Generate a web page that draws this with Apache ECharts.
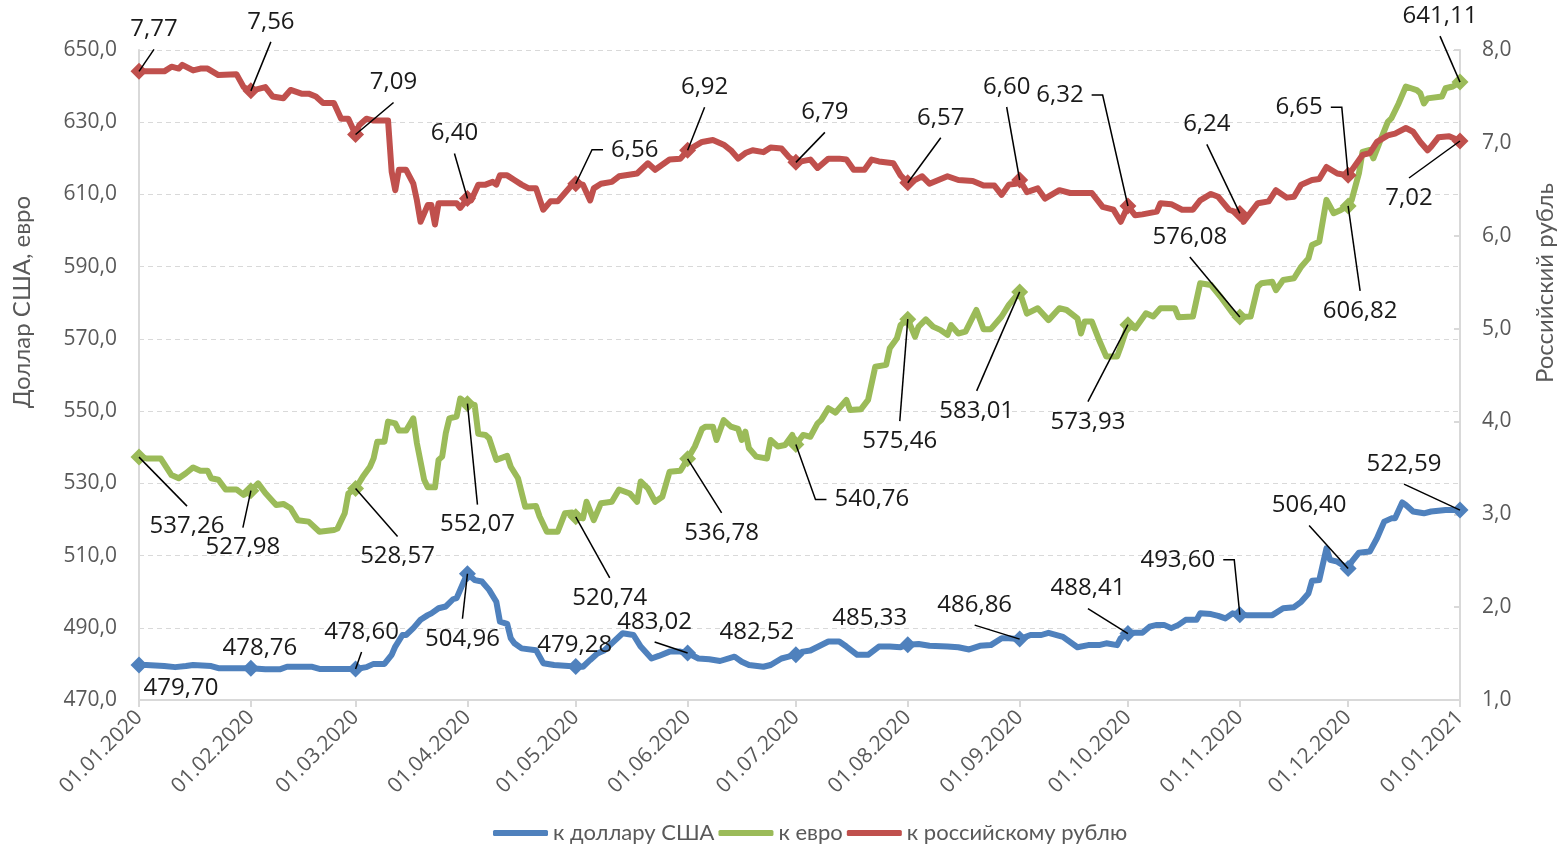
<!DOCTYPE html>
<html>
<head>
<meta charset="utf-8">
<title>Курс тенге, 2020</title>
<script src="https://cdn.jsdelivr.net/npm/echarts@6.0.0/dist/echarts.min.js"></script>
<style>
  html, body { margin: 0; padding: 0; background: #fff; }
  #main { width: 1565px; height: 849px; }
</style>
</head>
<body>
<div id="main"></div>
<script>
// x is the day counted from 01.01.2020
const monthDays = [0, 31, 60, 91, 121, 152, 182, 213, 244, 274, 305, 335, 366];
const monthLabels = ['01.01.2020', '01.02.2020', '01.03.2020', '01.04.2020', '01.05.2020', '01.06.2020',
  '01.07.2020', '01.08.2020', '01.09.2020', '01.10.2020', '01.11.2020', '01.12.2020', '01.01.2021'];
const seriesNames = ['к доллару США', 'к евро', 'к российскому рублю'];

// values on the first day of each month (the labelled points)
const usdMonth = [479.70, 478.76, 478.60, 504.96, 479.28, 483.02, 482.52, 485.33, 486.86, 488.41, 493.60, 506.40, 522.59];
const eurMonth = [537.26, 527.98, 528.57, 552.07, 520.74, 536.78, 540.76, 575.46, 583.01, 573.93, 576.08, 606.82, 641.11];
const rubMonth = [7.77, 7.56, 7.09, 6.40, 6.56, 6.92, 6.79, 6.57, 6.60, 6.32, 6.24, 6.65, 7.02];

// daily course: [day, rate]
const usdDaily = [[0, 479.70], [2, 479.7], [7, 479.4], [10, 479.1], [13, 479.4], [15, 479.7], [20, 479.4], [22, 478.8],
  [27, 478.8], [31, 478.76], [35, 478.5], [39, 478.5], [41, 479.2], [48, 479.2], [50, 478.6], [58, 478.6], [60, 478.60],
  [63, 479.1], [65, 480.0], [68, 480.0], [70, 482.5], [71, 484.8], [73, 488.0], [74, 488.0], [76, 489.9], [78, 492.2],
  [80, 493.5], [81, 494.0], [83, 495.4], [85, 495.9], [87, 497.9], [88, 498.2], [90, 502.8], [91, 504.96], [93, 503.2],
  [95, 502.8], [97, 500.5], [99, 497.2], [100, 491.7], [102, 491.1], [103, 487.1], [104, 485.7], [106, 484.3], [110, 483.8],
  [112, 480.2], [115, 479.7], [119, 479.4], [121, 479.28], [123, 479.2], [125, 481.1], [127, 482.9], [129, 483.8],
  [131, 485.7], [134, 488.5], [137, 488.0], [139, 484.8], [142, 481.5], [144, 482.2], [147, 483.4], [150, 483.4],
  [152, 483.02], [155, 481.5], [158, 481.3], [161, 480.8], [165, 482.0], [167, 480.6], [169, 479.7], [173, 479.2],
  [175, 479.7], [178, 481.5], [180, 482.0], [182, 482.52], [184, 483.4], [186, 483.7], [191, 486.2], [194, 486.2],
  [196, 484.8], [199, 482.5], [202, 482.5], [205, 484.8], [208, 484.8], [211, 484.6], [213, 485.33], [216, 485.5],
  [219, 485.0], [224, 484.8], [227, 484.6], [230, 484.0], [233, 485.0], [236, 485.2], [239, 487.1], [241, 487.1],
  [244, 486.86], [247, 488.0], [250, 488.0], [252, 488.6], [256, 487.5], [260, 484.6], [263, 485.2], [266, 485.2],
  [268, 485.7], [271, 485.2], [272, 487.1], [274, 488.41], [275, 488.6], [278, 488.6], [280, 490.3], [282, 490.8],
  [284, 490.8], [286, 489.9], [288, 490.8], [290, 492.2], [293, 492.2], [294, 494.0], [297, 493.8], [299, 493.3],
  [301, 492.6], [303, 494.0], [305, 493.60], [307, 493.5], [310, 493.5], [314, 493.5], [317, 495.4], [320, 495.7],
  [322, 497.2], [324, 499.5], [325, 503.0], [327, 503.2], [329, 512.0], [330, 508.8], [332, 508.3], [335, 506.40],
  [336, 508.3], [338, 510.8], [341, 511.1], [343, 514.8], [345, 519.4], [347, 520.3], [348, 520.3], [350, 524.7],
  [351, 524.0], [353, 522.2], [356, 521.7], [358, 522.2], [362, 522.6], [366, 522.59]];

const eurDaily = [[0, 537.26], [2, 536.9], [6, 536.9], [9, 532.3], [11, 531.4], [13, 532.8], [15, 534.4], [17, 533.5],
  [19, 533.5], [20, 531.4], [22, 531.0], [24, 528.3], [27, 528.3], [29, 526.8], [31, 527.98], [33, 530.0], [35, 527.3],
  [38, 524.0], [40, 524.3], [42, 523.1], [44, 519.8], [47, 519.4], [50, 516.6], [54, 517.1], [55, 517.5], [57, 521.7],
  [58, 527.2], [60, 528.57], [62, 531.8], [64, 534.6], [65, 536.9], [66, 541.5], [68, 541.5], [69, 547.1], [71, 546.6],
  [72, 544.6], [74, 544.6], [76, 548.0], [77, 541.1], [79, 531.0], [80, 528.9], [82, 528.9], [83, 536.5], [84, 537.4],
  [85, 543.9], [86, 548.0], [88, 548.5], [89, 553.5], [91, 552.07], [93, 551.7], [94, 543.7], [96, 543.4], [97, 542.5],
  [99, 536.5], [102, 537.6], [103, 534.6], [105, 531.4], [107, 523.5], [110, 523.7], [111, 520.8], [113, 516.6],
  [116, 516.6], [118, 521.7], [120, 521.9], [121, 520.74], [123, 520.3], [124, 524.9], [126, 519.8], [128, 524.5],
  [131, 524.9], [133, 528.3], [136, 527.2], [138, 524.9], [139, 530.5], [141, 528.6], [143, 524.9], [145, 526.3],
  [147, 533.2], [150, 533.5], [152, 536.78], [154, 540.2], [156, 545.1], [157, 545.7], [159, 545.7], [160, 542.0],
  [162, 547.5], [164, 545.7], [166, 545.1], [167, 542.0], [168, 544.3], [169, 539.7], [171, 537.4], [174, 536.9],
  [175, 542.0], [177, 540.2], [179, 540.6], [181, 543.4], [182, 540.76], [184, 543.4], [186, 542.9], [188, 546.6],
  [189, 547.5], [191, 550.8], [193, 549.6], [196, 553.1], [197, 550.3], [200, 550.5], [202, 553.1], [204, 562.3],
  [207, 562.8], [208, 567.4], [210, 570.2], [211, 573.8], [213, 575.46], [215, 570.6], [216, 573.4], [218, 575.4],
  [220, 573.4], [222, 572.5], [224, 571.1], [225, 573.8], [227, 571.5], [229, 572.0], [232, 578.0], [234, 572.7],
  [236, 572.7], [239, 576.2], [241, 579.4], [244, 583.01], [246, 577.0], [249, 578.5], [252, 575.2], [255, 578.5],
  [257, 578.0], [260, 575.7], [261, 571.5], [262, 574.8], [264, 574.8], [266, 569.7], [268, 565.1], [271, 565.1],
  [272, 567.8], [274, 573.93], [276, 572.9], [279, 577.1], [281, 576.2], [283, 578.5], [285, 578.5], [287, 578.5],
  [288, 576.0], [292, 576.2], [294, 585.4], [297, 584.9], [300, 581.2], [303, 577.1], [305, 576.08], [308, 576.2],
  [310, 584.5], [311, 585.4], [314, 585.8], [315, 583.5], [317, 586.3], [320, 586.8], [322, 590.0], [324, 592.3],
  [325, 596.0], [327, 596.9], [329, 608.5], [331, 604.8], [333, 605.7], [335, 606.82], [336, 608.5], [338, 615.9],
  [339, 621.8], [341, 622.3], [342, 620.0], [344, 625.1], [346, 630.1], [347, 631.1], [349, 635.2], [351, 639.9],
  [354, 638.9], [355, 638.0], [356, 635.2], [357, 636.6], [361, 637.1], [362, 639.4], [364, 639.9], [366, 641.11]];

const rubDaily = [[0, 7.77], [7, 7.77], [9, 7.82], [11, 7.80], [12, 7.84], [15, 7.78], [17, 7.80], [19, 7.80], [22, 7.73],
  [27, 7.74], [29, 7.60], [31, 7.56], [35, 7.60], [37, 7.50], [40, 7.48], [42, 7.57], [45, 7.53], [47, 7.53], [49, 7.50],
  [51, 7.43], [54, 7.43], [56, 7.26], [58, 7.26], [60, 7.09], [61, 7.19], [63, 7.26], [65, 7.24], [69, 7.24], [70, 6.69],
  [71, 6.49], [72, 6.71], [74, 6.71], [76, 6.56], [77, 6.38], [78, 6.15], [80, 6.33], [81, 6.33], [82, 6.12], [83, 6.35],
  [88, 6.35], [89, 6.30], [91, 6.40], [92, 6.38], [94, 6.55], [96, 6.55], [98, 6.58], [99, 6.55], [100, 6.65], [102, 6.65],
  [104, 6.60], [106, 6.55], [108, 6.51], [110, 6.51], [112, 6.28], [114, 6.37], [116, 6.37], [118, 6.46], [120, 6.55],
  [121, 6.56], [123, 6.55], [125, 6.38], [126, 6.51], [128, 6.56], [131, 6.58], [133, 6.64], [138, 6.67], [141, 6.78],
  [143, 6.71], [147, 6.82], [150, 6.83], [152, 6.92], [156, 7.01], [159, 7.03], [162, 6.98], [164, 6.92], [166, 6.83],
  [168, 6.89], [170, 6.92], [173, 6.90], [175, 6.95], [178, 6.94], [180, 6.85], [182, 6.79], [186, 6.82], [188, 6.73],
  [191, 6.83], [194, 6.83], [196, 6.82], [198, 6.71], [201, 6.71], [203, 6.82], [205, 6.80], [209, 6.78], [211, 6.65],
  [213, 6.57], [214, 6.58], [217, 6.64], [219, 6.56], [224, 6.64], [227, 6.60], [231, 6.59], [234, 6.54], [237, 6.54],
  [239, 6.44], [241, 6.55], [243, 6.56], [244, 6.60], [246, 6.47], [249, 6.51], [251, 6.40], [255, 6.49], [258, 6.46],
  [264, 6.46], [267, 6.31], [270, 6.28], [272, 6.15], [274, 6.32], [276, 6.22], [278, 6.23], [282, 6.26], [283, 6.35],
  [286, 6.34], [289, 6.28], [292, 6.28], [294, 6.38], [297, 6.45], [299, 6.42], [302, 6.28], [305, 6.24], [306, 6.15],
  [310, 6.35], [313, 6.37], [315, 6.49], [318, 6.41], [320, 6.42], [322, 6.55], [325, 6.60], [327, 6.61], [329, 6.74],
  [332, 6.67], [335, 6.65], [339, 6.87], [341, 6.89], [343, 7.01], [346, 7.08], [348, 7.10], [351, 7.16], [353, 7.12],
  [355, 7.01], [357, 6.92], [358, 6.96], [360, 7.06], [363, 7.07], [366, 7.02]];

// label centre relative to its point (px), and from which side of the label the leader starts
const usdShift = [[42, 23], [9, -20], [6, -37], [-5, 65], [-1, -21], [-33, -31], [-39, -23], [-38, -26], [-45, -34],
  [-40, -45], [-62, -55], [-39, -63], [-56, -46]];
const usdLead = ['none', 'none', 'bottom', 'top', 'none', 'bottom', 'none', 'none', 'bottom', 'bottom', 'elbowRight', 'bottom', 'bottom'];
const eurShift = [[48, 69], [-8, 57], [42, 68], [10, 121], [34, 81], [34, 74], [76, 55], [-8, 122], [-43, 119],
  [-40, 97], [-50, -80], [12, 105], [-20, -66]];
const eurLead = ['top', 'top', 'top', 'top', 'top', 'top', 'elbowLeft', 'top', 'top', 'top', 'bottom', 'top', 'bottom'];
const rubShift = [[15, -42], [20, -69], [38, -52], [-13, -65], [59, -34], [17, -63], [29, -50], [33, -65], [-13, -93],
  [-68, -111], [-33, -89], [-49, -68], [-51, 57]];
const rubLead = ['bottom', 'bottom', 'bottom', 'bottom', 'elbowLeft', 'bottom', 'bottom', 'bottom', 'bottom',
  'elbowRight', 'bottom', 'elbowRight', 'top'];

const colors = ['#4F81BD', '#9BBB59', '#C0504D'];
const FONT = '"Open Sans", "Noto Sans", sans-serif';
const NARROW = '"Liberation Sans Narrow", Lato, sans-serif';
const LABEL_SIZE = 24;
const comma = (v, n) => v.toFixed(n).replace('.', ',');

const measureCtx = document.createElement('canvas').getContext('2d');
function textWidth(s) {
  measureCtx.font = LABEL_SIZE + 'px ' + FONT;
  return measureCtx.measureText(s).width;
}

function lineSeries(name, daily, color, axis) {
  return {
    name: name,
    type: 'line',
    yAxisIndex: axis,
    data: daily,
    symbol: 'none',
    showSymbol: false,
    lineStyle: { color: color, width: 6, join: 'round', cap: 'round' },
    itemStyle: { color: color },
    emphasis: { disabled: true },
    silent: true
  };
}

function pointSeries(name, values, color, axis) {
  return {
    name: name + ' (1 число)',
    type: 'scatter',
    yAxisIndex: axis,
    symbol: 'diamond',
    symbolSize: 17,
    itemStyle: { color: color, opacity: 1 },
    z: 4,
    data: monthDays.map((d, i) => [d, values[i]]),
    emphasis: { disabled: true },
    silent: true
  };
}

// data labels with Excel-like leader lines, placed from the point's pixel position
function labelSeries(values, shift, lead, axis) {
  return {
    type: 'custom',
    yAxisIndex: axis,
    z: 6,
    silent: true,
    data: monthDays.map((d, i) => [d, values[i]]),
    renderItem: (params, api) => {
      const i = params.dataIndex;
      const p = api.coord([api.value(0), api.value(1)]);
      const cx = p[0] + shift[i][0];
      const cy = p[1] + shift[i][1];
      const txt = comma(values[i], 2);
      const hw = textWidth(txt) / 2 + 8;
      const hh = 20;
      const children = [{
        type: 'text',
        style: {
          text: txt, x: cx, y: cy, align: 'center', verticalAlign: 'middle',
          fontFamily: FONT, fontSize: LABEL_SIZE, fill: '#1a1a1a'
        }
      }];
      let pts = null;
      switch (lead[i]) {
        case 'top': pts = [[cx, cy - hh], p]; break;
        case 'bottom': pts = [[cx, cy + hh], p]; break;
        case 'elbowLeft': pts = [[cx - hw, cy], [cx - hw - 11, cy], p]; break;
        case 'elbowRight': pts = [[cx + hw, cy], [cx + hw + 11, cy], p]; break;
      }
      if (pts) {
        children.push({
          type: 'polyline',
          shape: { points: pts },
          style: { stroke: '#000', lineWidth: 1.5, fill: null }
        });
      }
      return { type: 'group', children: children };
    }
  };
}

const chart = echarts.init(document.getElementById('main'));
chart.setOption({
  animation: false,
  backgroundColor: '#fff',
  grid: { left: 139, right: 105, top: 50, bottom: 149 },
  legend: {
    data: seriesNames,
    top: 817,
    left: 488,
    icon: 'roundRect',
    itemWidth: 55,
    itemHeight: 6,
    itemGap: 4,
    textStyle: { fontFamily: NARROW, fontSize: 22, color: '#595959' }
  },
  xAxis: {
    type: 'value',
    min: 0,
    max: 366,
    axisLine: { show: true, onZero: false, lineStyle: { color: '#D9D9D9', width: 2 } },
    axisTick: { show: true, customValues: monthDays, length: 7, lineStyle: { color: '#D9D9D9', width: 2 } },
    axisLabel: {
      customValues: monthDays,
      rotate: 45,
      margin: 14,
      color: '#595959',
      fontFamily: FONT,
      fontSize: 21,
      formatter: v => monthLabels[monthDays.indexOf(v)]
    },
    splitLine: { show: false }
  },
  yAxis: [
    {
      type: 'value',
      position: 'left',
      min: 470,
      max: 650,
      interval: 20,
      name: 'Доллар США, евро',
      nameLocation: 'middle',
      nameGap: 105,
      nameTextStyle: { fontFamily: NARROW, fontSize: 24, color: '#595959', padding: [0, 0, 0, 146] },
      axisLine: { show: true, lineStyle: { color: '#D9D9D9', width: 2 } },
      axisTick: { show: false },
      axisLabel: { margin: 22, color: '#595959', fontFamily: FONT, fontSize: 21, formatter: v => comma(v, 1) },
      splitLine: { show: true, lineStyle: { color: '#D9D9D9', width: 1, type: [5, 4] } }
    },
    {
      type: 'value',
      position: 'right',
      min: 1,
      max: 8,
      interval: 1,
      name: 'Российский рубль',
      nameLocation: 'middle',
      nameGap: 73,
      nameTextStyle: { fontFamily: NARROW, fontSize: 24, color: '#595959', padding: [0, 0, 0, 184] },
      axisLine: { show: true, lineStyle: { color: '#D9D9D9', width: 2 } },
      axisTick: { show: true, inside: true, length: 6, lineStyle: { color: '#D9D9D9', width: 2 } },
      axisLabel: { margin: 22, color: '#595959', fontFamily: FONT, fontSize: 21, formatter: v => comma(v, 1) },
      splitLine: { show: false }
    }
  ],
  series: [
    lineSeries(seriesNames[0], usdDaily, colors[0], 0),
    lineSeries(seriesNames[1], eurDaily, colors[1], 0),
    lineSeries(seriesNames[2], rubDaily, colors[2], 1),
    pointSeries(seriesNames[0], usdMonth, colors[0], 0),
    pointSeries(seriesNames[1], eurMonth, colors[1], 0),
    pointSeries(seriesNames[2], rubMonth, colors[2], 1),
    labelSeries(usdMonth, usdShift, usdLead, 0),
    labelSeries(eurMonth, eurShift, eurLead, 0),
    labelSeries(rubMonth, rubShift, rubLead, 1)
  ]
});
</script>
</body>
</html>
